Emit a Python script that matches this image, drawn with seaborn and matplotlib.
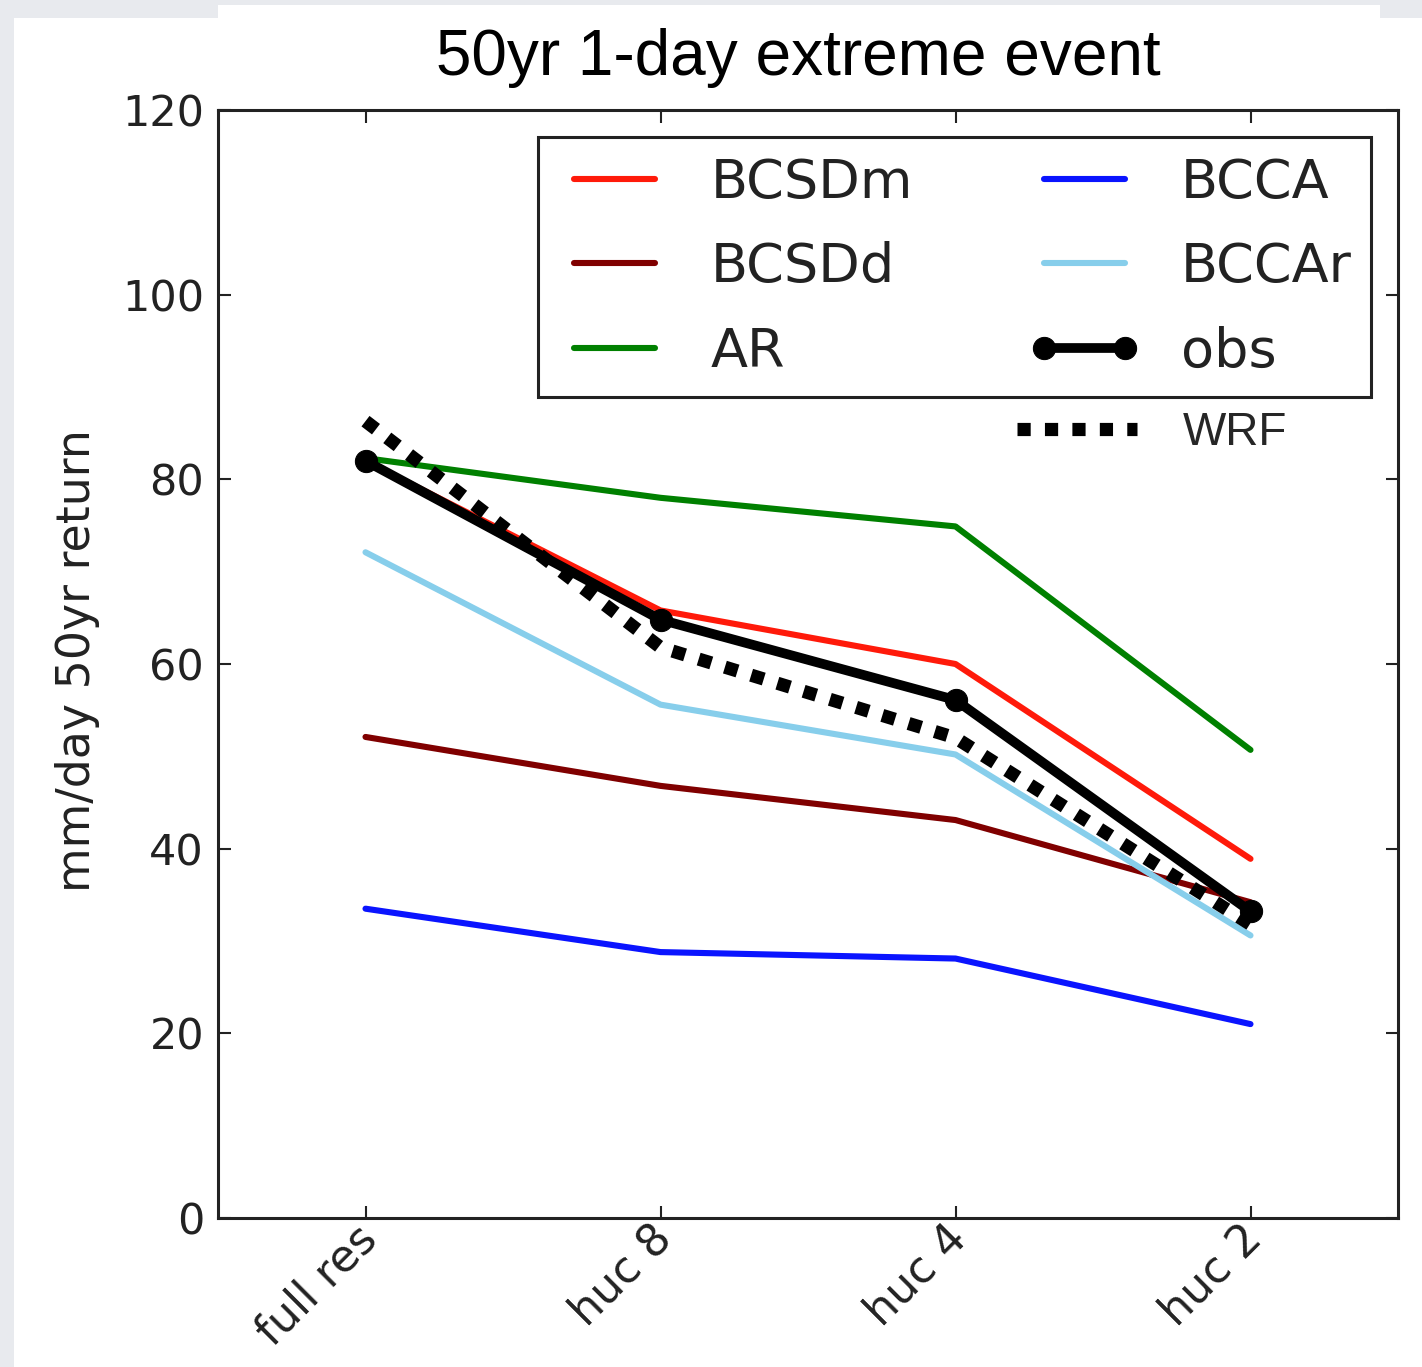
import matplotlib
matplotlib.use("Agg")
import matplotlib.pyplot as plt
import matplotlib.transforms as mtransforms
from matplotlib.patches import Rectangle
from matplotlib.lines import Line2D
import seaborn as sns
import pandas as pd

categories = ["full res", "huc 8", "huc 4", "huc 2"]
bcsdm = [82.0, 65.8, 60.0, 38.9]
bcsdd = [52.1, 46.8, 43.1, 34.2]
ar = [82.3, 78.0, 74.9, 50.7]
bcca = [33.5, 28.8, 28.1, 21.0]
bccar = [72.1, 55.6, 50.2, 30.6]
obs = [82.0, 64.8, 56.1, 33.2]
wrf = [86.3, 61.8, 52.0, 31.8]

series_names = ["BCSDm", "BCSDd", "AR", "BCCA", "BCCAr"]
series_values = [bcsdm, bcsdd, ar, bcca, bccar]
series_colors = ["#ff1a0a", "#800000", "#008000", "#0a14ff", "#87ceeb"]

sns.set_style("ticks")
plt.rcParams["font.family"] = ["DejaVu Sans"]

W, H = 1422, 1367
fig = plt.figure(figsize=(W / 100, H / 100), dpi=100, facecolor="#e8eaee")
fig.add_artist(Rectangle((14 / W, 0), 1, 1 - 18 / H, transform=fig.transFigure,
                         facecolor="white", edgecolor="none", zorder=-10))
fig.add_artist(Rectangle((218 / W, 1 - 18 / H), (1380 - 218) / W, 13 / H,
                         transform=fig.transFigure, facecolor="white",
                         edgecolor="none", zorder=-10))

ax = fig.add_axes([218 / W, 1 - 1218 / H, (1398 - 218) / W, (1218 - 110) / H])

LW = 4.4
WRF_STYLE = (0, (1, 1.08))

for name, vals, col in zip(series_names, series_values, series_colors):
    df = pd.DataFrame({"cat": categories, "val": vals})
    sns.lineplot(data=df, x="cat", y="val", color=col, linewidth=LW,
                 sort=False, ax=ax, label=name)

df_obs = pd.DataFrame({"cat": categories, "val": obs})
sns.lineplot(data=df_obs, x="cat", y="val", color="black", linewidth=7,
             marker="o", markersize=16, markeredgecolor="black",
             sort=False, ax=ax, label="obs")

df_wrf = pd.DataFrame({"cat": categories, "val": wrf})
sns.lineplot(data=df_wrf, x="cat", y="val", color="black", linewidth=9.5,
             linestyle=WRF_STYLE, sort=False, ax=ax, label="WRF")

ax.set_xlim(-0.5, 3.5)
ax.set_ylim(0, 120)
ax.set_yticks([0, 20, 40, 60, 80, 100, 120])
ax.set_xlabel("")
ax.set_ylabel("mm/day 50yr return", fontsize=33, color="#222222")
ax.yaxis.set_label_coords(-0.1, 0.503)

for s in ax.spines.values():
    s.set_linewidth(2.2)
    s.set_color("#222222")

ax.tick_params(axis="both", direction="in", length=9, width=1.5,
               top=True, right=True, colors="#222222")
ax.tick_params(axis="y", labelsize=31, pad=10)
ax.tick_params(axis="x", labelsize=32, pad=2)
shift = mtransforms.ScaledTranslation(20 / 100, 4 / 100, fig.dpi_scale_trans)
for lab in ax.get_xticklabels():
    lab.set_rotation(45)
    lab.set_ha("right")
    lab.set_transform(lab.get_transform() + shift)

handles, labels = ax.get_legend_handles_labels()
main_h = handles[:6]
main_l = labels[:6]
leg1 = ax.legend(main_h, main_l, ncol=2, loc="upper right", fontsize=39,
                 frameon=True, fancybox=False, framealpha=1, edgecolor="#222222",
                 handlelength=2.1, handletextpad=0.72, columnspacing=2.12,
                 labelspacing=0.6, borderaxespad=0.5, numpoints=2,
                 borderpad=0.36)
leg1.get_frame().set_linewidth(2.2)
for t in leg1.get_texts():
    t.set_color("#222222")
ax.add_artist(leg1)

wrf_handle = Line2D([], [], color="black", linewidth=9.5, linestyle=WRF_STYLE)
leg2 = ax.legend([wrf_handle], ["WRF"], loc="center left",
                 bbox_to_anchor=(0.662, 0.7085), frameon=False,
                 prop={"family": "Liberation Sans", "size": 33},
                 handlelength=2.6, handletextpad=1.0, borderaxespad=0)

fig.text(798 / W, 1 - 58 / H, "50yr 1-day extreme event", ha="center",
         va="center", fontsize=46, family="Liberation Sans", color="black")

fig.savefig("out.png", dpi=100, facecolor=fig.get_facecolor())
